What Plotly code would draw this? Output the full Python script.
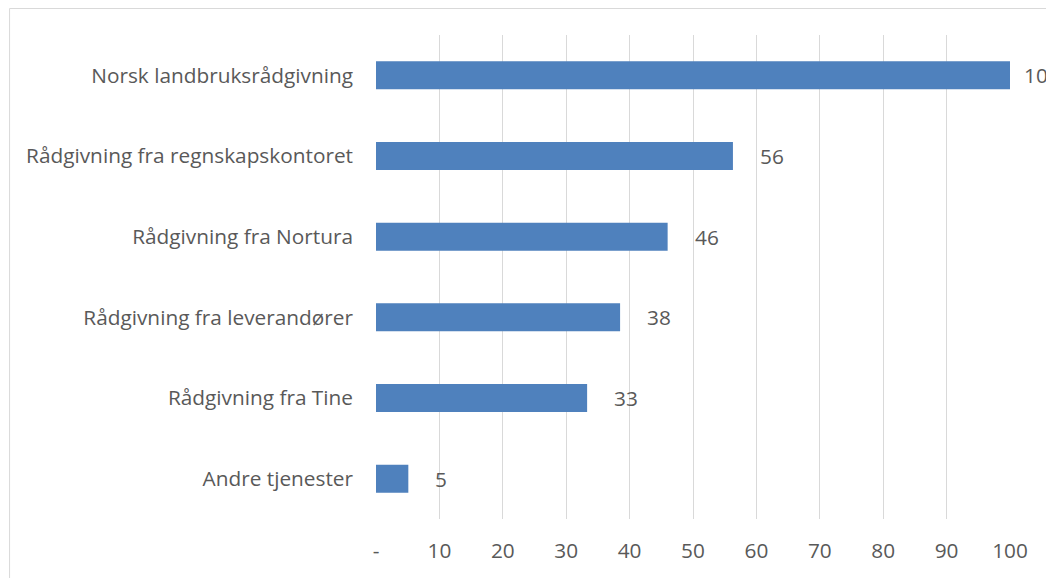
import plotly.graph_objects as go

categories = ["Andre tjenester", "Rådgivning fra Tine", "Rådgivning fra leverandører",
              "Rådgivning fra Nortura", "Rådgivning fra regnskapskontoret", "Norsk landbruksrådgivning"]
values = [5.1, 33.3, 38.5, 46.0, 56.3, 100]
value_labels = ["5", "33", "38", "46", "56", "100"]
tick_vals = [0, 10, 20, 30, 40, 50, 60, 70, 80, 90, 100]
tick_text = ["-", "10", "20", "30", "40", "50", "60", "70", "80", "90", "100"]

FONT = "Open Sans"
TXT = "#595959"
FS = 20.8

fig = go.Figure()
fig.add_trace(go.Bar(
    x=values, y=categories, orientation="h",
    marker=dict(color="#4F81BD", line=dict(width=0)),
    width=0.347, hoverinfo="skip",
))

annotations = [
    dict(x=v, y=c, text=t, xref="x", yref="y", xanchor="left", yanchor="middle",
         xshift=(12 if v >= 100 else 25), showarrow=False,
         font=dict(family=FONT, size=FS, color=TXT))
    for v, c, t in zip(values, categories, value_labels)
]

PW, PH, ML, MT = 635, 484, 367.5, 27

fig.update_layout(
    width=1054, height=578,
    margin=dict(l=ML, r=51.5, t=MT, b=67),
    paper_bgcolor="white", plot_bgcolor="white",
    showlegend=False,
    font=dict(family=FONT, size=FS, color=TXT),
    annotations=annotations,
    shapes=[dict(type="rect", xref="paper", yref="paper",
                 x0=(0.5 - ML) / PW, x1=1.2, y0=-0.3, y1=(PH + MT - 0.5) / PH,
                 line=dict(color="#D9D9D9", width=1), fillcolor="rgba(0,0,0,0)", layer="below")],
    xaxis=dict(range=[0, 100], tickvals=tick_vals, ticktext=tick_text,
               showgrid=True, gridcolor="#D9D9D9", gridwidth=1.3, zeroline=False,
               showline=False, ticks="", ticklabelstandoff=17,
               tickfont=dict(family=FONT, size=FS, color=TXT)),
    yaxis=dict(range=[-0.5, 5.5], showgrid=False, zeroline=False, showline=False,
               ticks="", ticklabelstandoff=22,
               tickfont=dict(family=FONT, size=FS, color=TXT)),
)
fig.write_html("out.html")
